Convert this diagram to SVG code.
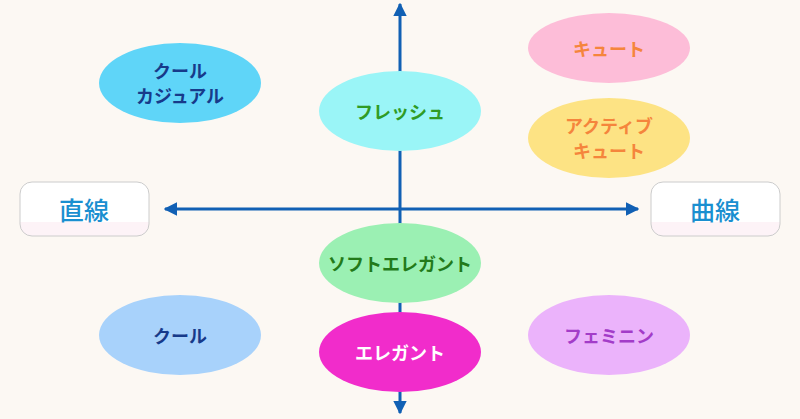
<svg xmlns="http://www.w3.org/2000/svg" width="800" height="419" viewBox="0 0 800 419">
<defs>
<marker id="ah" viewBox="0 0 10 10" refX="9" refY="5" markerWidth="4.5" markerHeight="4.5" orient="auto-start-reverse"><path d="M0,0L10,5L0,10z" fill="#1160b4"/></marker>
<linearGradient id="bg" x1="0" y1="0" x2="0" y2="1"><stop offset="0.75" stop-color="#fff"/><stop offset="0.75" stop-color="#fdf3f7"/></linearGradient>
</defs>
<style>
text{font-family:"Noto Sans CJK JP",sans-serif;font-weight:bold;text-anchor:middle;dominant-baseline:central}
.l{font-size:18px}
.b{font-size:25px;fill:#1a8fd0;font-weight:500}
.box{fill:url(#bg);stroke:#ccc;stroke-width:1}
</style>
<rect width="800" height="419" fill="#fcf8f3"/>
<g id="connectors" stroke="#1160b4" stroke-width="3" fill="none">
<line x1="400" y1="413" x2="400" y2="4" marker-start="url(#ah)" marker-end="url(#ah)"/>
<line x1="165" y1="209" x2="638" y2="209" marker-start="url(#ah)" marker-end="url(#ah)"/>
</g>
<g id="chokusen"><rect class="box" x="20" y="182" width="129" height="54" rx="12"/><text class="b" x="84" y="209">直線</text></g>
<g id="kyokusen"><rect class="box" x="651" y="182" width="129" height="54" rx="12"/><text class="b" x="715" y="209">曲線</text></g>
<g id="coolcasual"><ellipse cx="180" cy="83" rx="81" ry="40" fill="#5fd5f8"/><text class="l" x="180" y="70" fill="#173a8a">クール</text><text class="l" x="180" y="95" fill="#173a8a">カジュアル</text></g>
<g id="fresh"><ellipse cx="400" cy="111" rx="81" ry="40" fill="#9af5f7"/><text class="l" x="400" y="111" fill="#2f9b25">フレッシュ</text></g>
<g id="cute"><ellipse cx="609" cy="48" rx="81" ry="35" fill="#fdbdd8"/><text class="l" x="609" y="48" fill="#f5853c">キュート</text></g>
<g id="activecute"><ellipse cx="609" cy="138" rx="81" ry="40" fill="#fde384"/><text class="l" x="609" y="125" fill="#f5853c">アクティブ</text><text class="l" x="609" y="150" fill="#f5853c">キュート</text></g>
<g id="softelegant"><ellipse cx="400" cy="263" rx="81" ry="40" fill="#9bf0b3"/><text class="l" x="400" y="263" fill="#237a1a">ソフトエレガント</text></g>
<g id="cool"><ellipse cx="180" cy="335" rx="81" ry="40" fill="#a8d2fb"/><text class="l" x="180" y="335" fill="#173a8a">クール</text></g>
<g id="elegant"><ellipse cx="400" cy="352" rx="81" ry="40" fill="#f12ccb"/><text class="l" x="400" y="352" fill="#fff">エレガント</text></g>
<g id="feminine"><ellipse cx="609" cy="335" rx="81" ry="40" fill="#ebb3fb"/><text class="l" x="609" y="335" fill="#a33cc8">フェミニン</text></g>
</svg>
